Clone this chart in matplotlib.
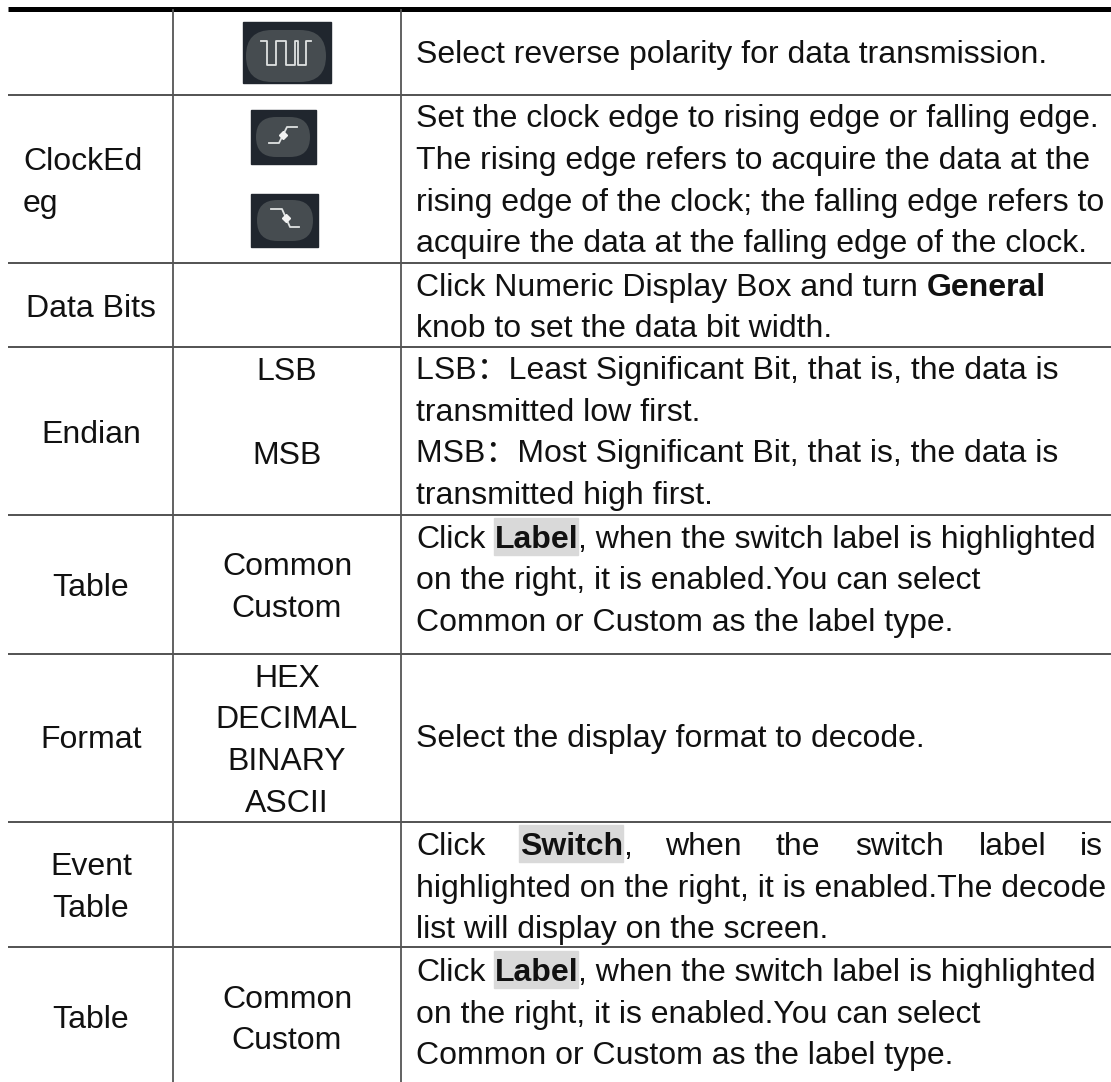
#!/usr/bin/env python3

# table page from an oscilloscope manual, laid out in pixel coordinates

import matplotlib
matplotlib.use("Agg")
from matplotlib import pyplot as plt
from matplotlib.patches import FancyBboxPatch, Rectangle

plt.rcParams['font.family'] = ['Liberation Sans', 'Noto Sans CJK SC', 'DejaVu Sans']

W = 1111
H = 1082
FS = 23
TXT = '#111111'
LINE = '#444444'

row_lines = [95, 263, 347, 515, 654, 822, 947]
col_lines = [173, 401]

# column 1, baselines
col1_labels = ['Data Bits', 'Endian', 'Table', 'Format', 'Event', 'Table', 'Table']
col1_y = [317, 443, 596, 748, 875, 917, 1028]

# column 2, baselines
col2_labels = ['LSB', 'MSB', 'Common', 'Custom', 'HEX', 'DECIMAL', 'BINARY',
               'ASCII', 'Common', 'Custom']
col2_y = [380, 464, 575, 617, 687, 728, 770, 812, 1008, 1049]

# column 3 plain lines, baselines
col3_lines = [
    'Select reverse polarity for data transmission.',
    'Set the clock edge to rising edge or falling edge.',
    'The rising edge refers to acquire the data at the',
    'rising edge of the clock; the falling edge refers to',
    'acquire the data at the falling edge of the clock.',
    'Click Numeric Display Box and turn',
    'knob to set the data bit width.',
    'LSB\uff1aLeast Significant Bit, that is, the data is',
    'transmitted low first.',
    'MSB\uff1aMost Significant Bit, that is, the data is',
    'transmitted high first.',
    'on the right, it is enabled.You can select',
    'Common or Custom as the label type.',
    'Select the display format to decode.',
    'highlighted on the right, it is enabled.The decode',
    'list will display on the screen.',
    'on the right, it is enabled.You can select',
    'Common or Custom as the label type.',
]
col3_y = [63, 127, 169, 211, 252, 296, 337, 379, 421, 462, 504, 589, 631, 747, 897, 938,
          1023, 1064]

# justified line in the Event Table row
switch_words = ['Click', 'Switch', ',', 'when', 'the', 'switch', 'label', 'is']
switch_x = [416, 520, 623, 665, 776, 855, 979, 1080]

label_y = [548, 981]

# icons: button box, oval box, white trace
btn_boxes = [(243, 22, 331, 83), (251, 110, 316, 164), (251, 194, 318, 247)]
oval_boxes = [(246, 30, 326, 82), (256, 117, 310, 157), (257, 200, 313, 241)]
trace_x = [[261, 267, 267, 276, 276, 286, 286, 295, 295, 298, 298, 306, 306, 311],
           [269, 279, 287, 297],
           [271, 282, 290, 299]]
trace_y = [[41, 41, 65, 65, 41, 41, 65, 65, 41, 41, 65, 65, 41, 41],
           [143, 143, 127, 127],
           [209, 209, 227, 227]]

fig = plt.figure(figsize=(W / 100, H / 100), dpi=100)
ax = fig.add_axes([0, 0, 1, 1])
ax.set_xlim(0, W)
ax.set_ylim(H, 0)
ax.axis('off')

ax.plot([8, W], [9, 9], color='k', lw=3.6, solid_capstyle='butt')
for y in row_lines:
    ax.plot([8, W], [y, y], color=LINE, lw=1.3, solid_capstyle='butt')
for x in col_lines:
    ax.plot([x, x], [9, H], color='#555555', lw=1.3, solid_capstyle='butt')


def txt(x, y, s, ha='left', **kw):
    ax.text(x, y, s, ha=ha, va='baseline', fontsize=FS, color=TXT, **kw)


for s, y in zip(col1_labels, col1_y):
    txt(91, y, s, ha='center')
txt(23, 170, 'ClockEd')
txt(23, 212, 'eg')
for s, y in zip(col2_labels, col2_y):
    txt(287, y, s, ha='center')
for s, y in zip(col3_lines, col3_y):
    txt(416, y, s)

txt(927, 296, 'General', fontweight='bold')

# Label lines with the highlighted word
for y in label_y:
    ax.add_patch(Rectangle((494, y - 30), 84, 37, color='#d9d9d9', zorder=0))
    txt(416, y, 'Click')
    txt(495, y, 'Label', fontweight='bold')
    txt(578, y, ', when the switch label is highlighted')

ax.add_patch(Rectangle((519, 825), 104, 37, color='#d9d9d9', zorder=0))
for s, x in zip(switch_words, switch_x):
    txt(x, 855, s, fontweight='bold' if s == 'Switch' else 'normal')

# icons drawn as small vector buttons
for btn, oval, xs, ys in zip(btn_boxes, oval_boxes, trace_x, trace_y):
    ax.add_patch(Rectangle((btn[0], btn[1]), btn[2] - btn[0], btn[3] - btn[1],
                           color='#20262e', zorder=1))
    r = (oval[3] - oval[1]) / 2
    ax.add_patch(FancyBboxPatch((oval[0], oval[1]), oval[2] - oval[0], oval[3] - oval[1],
                                boxstyle='round,pad=0,rounding_size=%f' % r,
                                fc='#464c50', ec='none', zorder=2))
    ax.plot(xs, ys, color='#dfe2e2', lw=1.3, zorder=3)
    if len(xs) == 4:
        # little arrow head on the clock edge traces
        ax.plot((xs[1] + xs[2]) / 2, (ys[1] + ys[2]) / 2, marker='D', ms=4,
                color='#f2f2f2', zorder=4)

fig.savefig('out.png', dpi=100)
